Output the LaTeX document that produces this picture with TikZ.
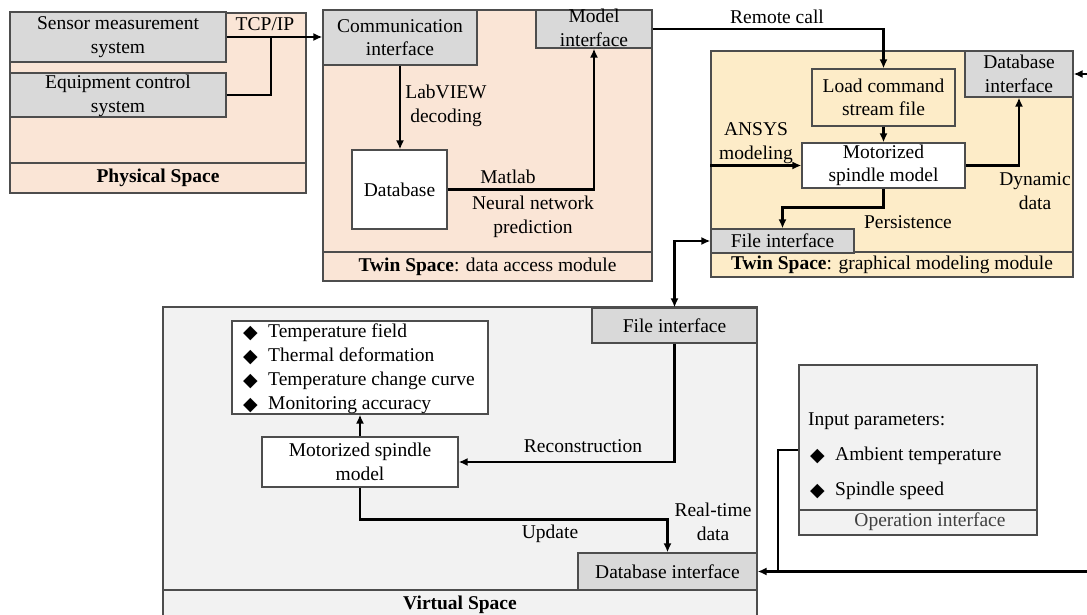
\documentclass[tikz,border=0pt]{standalone}
\usepackage{fontspec}
\setmainfont{Liberation Serif}
\newfontfamily\symfont{DejaVu Sans}
\usetikzlibrary{arrows.meta,calc,fit}
\definecolor{peach}{HTML}{FAE5D6}
\definecolor{cream}{HTML}{FDECC8}
\definecolor{pale}{HTML}{F2F2F2}
\definecolor{boxgray}{HTML}{D9D9D9}
\definecolor{edge}{HTML}{4D4D4D}
\newcommand{\dia}{\makebox[25pt][l]{\raisebox{-0.5pt}{\symfont\fontsize{19}{19}\selectfont ◆}}}
\tikzset{
  boxfit/.style={fit={#1}, inner sep=0pt, draw=edge, line width=1.2pt},
  gbox/.style={boxfit={#1}, fill=boxgray},
  wbox/.style={boxfit={#1}, fill=white},
  conn/.style={line width=2.6pt, black},
  arr/.style={conn, -{Latex[length=9pt,width=8pt]}},
  arrs/.style={conn, {Latex[length=9pt,width=8pt]}-{Latex[length=9pt,width=8pt]}},
  txt/.style={align=center, inner sep=0pt},
}
\begin{document}
\begin{tikzpicture}[x=1pt,y=-1pt,
  every node/.append style={font=\fontsize{19.5}{23.5}\selectfont}]
\useasboundingbox (0,0) rectangle (1087,615);

% regions
\node[boxfit={(10,13) (306,193)}, fill=peach] (phys) {};
\node[boxfit={(10,163) (306,193)}, fill=peach] (physT) {};
\node[boxfit={(323,10) (652,281)}, fill=peach] (dam) {};
\node[boxfit={(323,252) (652,281)}, fill=peach] (damT) {};
\node[boxfit={(711,51) (1073,277)}, fill=cream] (gmm) {};
\node[boxfit={(711,252) (1073,277)}, fill=cream] (gmmT) {};
\node[boxfit={(163,307) (757,640)}, fill=pale] (vs) {};
\node[boxfit={(163,590) (757,640)}, fill=pale] (vsT) {};
\node[boxfit={(799,365) (1037,535)}, fill=pale] (op) {};
\node[boxfit={(799,510) (1037,535)}, fill=pale] (opT) {};

% inner boxes
\node[gbox={(10,12) (226,62)}] (sensor) {};
\node[gbox={(10,73) (226,117)}] (equip) {};
\node[gbox={(323,10) (477,65)}] (comm) {};
\node[gbox={(536,10) (652,48)}] (model) {};
\node[wbox={(352,150) (447,229)}] (database) {};
\node[gbox={(965,51) (1073,97)}] (dbi) {};
\node[boxfit={(812,69) (955,126)}, fill=cream] (load) {};
\node[wbox={(802,143) (965,188)}] (tsp) {};
\node[gbox={(711,229) (854,253)}] (tfi) {};
\node[gbox={(592,308) (757,343)}] (vfi) {};
\node[wbox={(232,321) (488,414)}] (res) {};
\node[wbox={(262,437) (458,487)}] (vsp) {};
\node[gbox={(578,553) (757,590)}] (vdbi) {};

% connectors
\coordinate (tcp) at (271,37);
\draw[arr] (sensor.east) -- (sensor.east -| comm.west);
\draw[conn] (equip.east) -| (tcp);
\draw[arr] (comm.south) -- (comm.south |- database.north);
\draw[arr] (database.east) -| (model.south);
\draw[arr] (model.east) -| (load.north);
\coordinate (dbin) at (1092,74);
\draw[arr] (dbin) -- (dbi.east);
\draw[arr] (load.south) -- (tsp.north);
\draw[arr] (gmm.west |- tsp.west) -- (tsp.west);
\draw[arr] (tsp.east) -| (dbi.south);
\draw[arr] (tsp.south) |- ([yshift=21pt]tfi.north) -- (tfi.north);
\draw[arrs] (vfi.north) |- (tfi.west);
\draw[arr] (vfi.south) |- (vsp.east);
\draw[arr] (vsp.north) -- (res.south);
\draw[arr] (vsp.south) |- ([yshift=33pt]vdbi.north) -- (vdbi.north);
\coordinate (opline) at (1092,571.5);
\coordinate (opj) at (778,571.5);
\draw[arr] (opline) -- (vdbi.east);
\draw[conn] (op.west) -| (opj);

% texts
\node[txt] at (physT.center) {\textbf{Physical Space}};
\node[txt] at (damT.center) {\textbf{Twin Space}: data access module};
\node[txt] at (gmmT.center) {\textbf{Twin Space}: graphical modeling module};
\node[txt] at (460,605) {\textbf{Virtual Space}};
\node[txt, text=black!75] at (930,522) {Operation interface};

\node[txt] at (118,37) {Sensor measurement\\system};
\node[txt] at (118,96) {Equipment control\\system};
\node[txt] at (265,24) {TCP/IP};
\node[txt] at (comm.center) {Communication\\interface};
\node[txt] at (594,28) {Model\\interface};
\node[txt] at (446,106) {LabVIEW\\decoding};
\node[txt] at (database.center) {Database};
\node[txt] at (508,177) {Matlab};
\node[txt] at (533,217) {Neural network\\prediction};
\node[txt] at (777,17) {Remote call};
\node[txt] at (load.center) {Load command\\stream file};
\node[txt] at (tsp.center) {Motorized\\spindle model};
\node[txt] at (dbi.center) {Database\\interface};
\node[txt] at (756,143) {ANSYS\\modeling};
\node[txt] at (1035,191) {Dynamic\\data};
\node[txt] at (908,222) {Persistence};
\node[txt] at (tfi.center) {File interface};

\node[txt] at (vfi.center) {File interface};
\node[txt, align=left, anchor=west, font=\fontsize{19.5}{24}\selectfont] at (243,369)
  {\dia Temperature field\\\dia Thermal deformation\\\dia Temperature change curve\\\dia Monitoring accuracy};
\node[txt] at (vsp.center) {Motorized spindle\\model};
\node[txt] at (583,446) {Reconstruction};
\node[txt] at (550,534) {Update};
\node[txt] at (713,522) {Real-time\\data};
\node[txt] at (vdbi.center) {Database interface};

\node[txt, anchor=west] at (808,421) {Input parameters:};
\node[txt, anchor=west] at (810,456) {\dia Ambient temperature};
\node[txt, anchor=west] at (810,491) {\dia Spindle speed};
\end{tikzpicture}
\end{document}
